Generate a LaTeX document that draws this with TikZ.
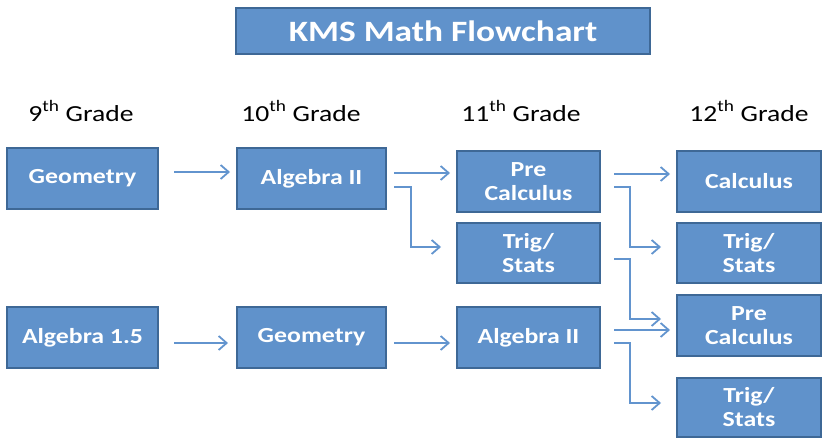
\documentclass[tikz,border=0pt]{standalone}
\usepackage{fontspec}
\setmainfont{Carlito}[FakeStretch=1.2]
\usetikzlibrary{arrows.meta}
\definecolor{boxfill}{RGB}{96,146,203}
\definecolor{boxedge}{RGB}{62,104,150}
\definecolor{linec}{RGB}{98,148,206}
\tikzset{
  x=1pt,y=-1pt,
  course/.style={draw=boxedge,line width=2pt,fill=boxfill,text=white,font=\bfseries\fontsize{21.5}{24}\selectfont,align=center,inner sep=0pt},
  grade/.style={font=\fontsize{23}{26}\selectfont,anchor=center},
  link/.style={draw=linec,line width=1.6pt,-{Straight Barb[length=8pt,width=14pt,line width=1.8pt]}},
}
\newcommand{\cbox}[6]{\node[course,minimum width=#4-#2,minimum height=#5-#3] (#1) at ({(#2+#4)/2},{(#3+#5)/2+1.5}) {#6};}
\begin{document}
\begin{tikzpicture}
\useasboundingbox (0,0) rectangle (822,439);
\node[course,minimum width=414,minimum height=46,font=\bfseries\fontsize{29.5}{33}\selectfont] (title) at (443,31) {KMS Math Flowchart};
\node[grade] (g9) at (81,111) {9\textsuperscript{th} Grade};
\node[grade] (g10) at (301,111) {10\textsuperscript{th} Grade};
\node[grade] (g11) at (521,111) {11\textsuperscript{th} Grade};
\node[grade] (g12) at (749,111) {12\textsuperscript{th} Grade};
\cbox{geo9}{7}{146.5}{158}{207.5}{Geometry}
\cbox{alg9}{7}{305.5}{158}{366.5}{Algebra 1.5}
\cbox{alg10}{237}{146.5}{386}{207.5}{Algebra II}
\cbox{geo10}{237}{305.5}{386}{366.5}{Geometry}
\cbox{pre11}{457}{149.5}{600}{210.5}{Pre\\Calculus}
\cbox{trig11}{457}{221.5}{600}{281.5}{Trig/\\Stats}
\cbox{alg11}{457}{305.5}{600}{366.5}{Algebra II}
\cbox{calc12}{677}{149.5}{821}{210.5}{Calculus}
\cbox{trig12}{677}{221.5}{821}{281.5}{Trig/\\Stats}
\cbox{pre12}{677}{293.5}{821}{354.5}{Pre\\Calculus}
\cbox{trigb12}{677}{376.5}{821}{435.5}{Trig/\\Stats}
% connectors
\coordinate (a1s) at (174,172); \coordinate (a1e) at (230,172);
\draw[link] (a1s) -- (a1e);
\coordinate (a2s) at (174,343); \coordinate (a2e) at (228,343);
\draw[link] (a2s) -- (a2e);
\coordinate (b2s) at (394,343); \coordinate (b2e) at (450,343);
\draw[link] (b2s) -- (b2e);
\coordinate (a3s) at (394,173); \coordinate (a3e) at (450,173);
\draw[link] (a3s) -- (a3e);
\coordinate (a4s) at (394,187); \coordinate (a4e) at (441,247);
\draw[link] (a4s) -| (411,247) -- (a4e);
\coordinate (a5s) at (614,174); \coordinate (a5e) at (670,174);
\draw[link] (a5s) -- (a5e);
\coordinate (a6s) at (614,187); \coordinate (a6e) at (661,247);
\draw[link] (a6s) -| (630,247) -- (a6e);
\coordinate (a7s) at (614,259); \coordinate (a7e) at (661,319);
\draw[link] (a7s) -| (630,319) -- (a7e);
\coordinate (a8s) at (614,330); \coordinate (a8e) at (670,330);
\draw[link] (a8s) -- (a8e);
\coordinate (a9s) at (614,343); \coordinate (a9e) at (661,403);
\draw[link] (a9s) -| (630,403) -- (a9e);
\end{tikzpicture}
\end{document}
